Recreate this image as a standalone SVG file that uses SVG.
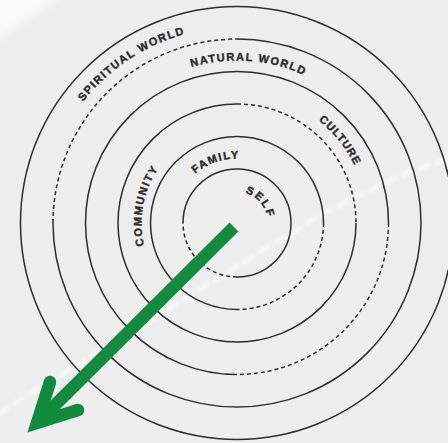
<svg xmlns="http://www.w3.org/2000/svg" width="448" height="443" viewBox="0 0 448 443">
  <defs>
    <filter id="blur" x="-20%" y="-20%" width="140%" height="140%">
      <feGaussianBlur stdDeviation="4"/>
    </filter>
    <filter id="blur2" x="-20%" y="-20%" width="140%" height="140%">
      <feGaussianBlur stdDeviation="1.5"/>
    </filter>
    <path id="p-spiritual" d="M57.25,301.15 A196,196 0 0 1 379.18,88.07"/>
    <path id="p-natural" d="M79.47,183.14 A162.5,162.5 0 0 1 398.67,206.57"/>
    <path id="p-culture" d="M174.1,108.1 A131,131 0 0 1 335.42,309.46"/>
    <path id="p-community" d="M203.24,312.33 A95.5,95.5 0 0 1 238.17,127.51"/>
    <path id="p-family" d="M173.29,233.09 A64.5,64.5 0 0 1 293.41,191.73"/>
    <path id="p-self" d="M220.8,196.57 A31,31 0 0 1 261.26,242.3"/>
  </defs>
  <style>
    .ring { fill: none; stroke: #2e2e2e; stroke-width: 1.5; }
    .dash { stroke-dasharray: 4 3; }
    .lbl { font-family: "Liberation Sans", Arial, sans-serif; font-weight: bold; font-size: 11px; fill: #2b2b2b; stroke: #2b2b2b; stroke-width: 0.4px; letter-spacing: 1.5px; }
    .arrow { fill: none; stroke: #138a3e; stroke-width: 12.5; }
  </style>

  <!-- background -->
  <rect width="448" height="443" fill="#eeeeee"/>
  <path d="M-10,-10 L70,-10 L-10,45 Z" fill="#fafafa" filter="url(#blur)"/>
  <path d="M0,412 Q120,340 250,258 T448,160" fill="none" stroke="#ffffff" stroke-opacity="0.55" stroke-width="5" stroke-dasharray="9 9" stroke-linecap="round" filter="url(#blur2)"/>

  <g id="ring-self">
    <path class="ring" d="M183,223 A54,54 0 1 1 237,277"/>
    <path class="ring dash" d="M237,277 A54,54 0 0 1 183,223"/>
    <text class="lbl" style="letter-spacing:2px"><textPath href="#p-self" startOffset="50%" text-anchor="middle">SELF</textPath></text>
  </g>
  <g id="ring-family">
    <path class="ring" d="M237,309.5 A86.5,86.5 0 1 1 323.5,223"/>
    <path class="ring dash" d="M323.5,223 A86.5,86.5 0 0 1 237,309.5"/>
    <text class="lbl"><textPath href="#p-family" startOffset="50%" text-anchor="middle">FAMILY</textPath></text>
  </g>
  <g id="ring-community">
    <path class="ring" d="M356,223 A119,119 0 1 1 237,104"/>
    <path class="ring dash" d="M237,104 A119,119 0 0 1 356,223"/>
    <text class="lbl"><textPath href="#p-community" startOffset="50%" text-anchor="middle">COMMUNITY</textPath></text>
  </g>
  <g id="ring-culture">
    <path class="ring" d="M237,374.5 A151.5,151.5 0 1 1 388.5,223"/>
    <path class="ring dash" d="M388.5,223 A151.5,151.5 0 0 1 237,374.5"/>
    <text class="lbl" style="letter-spacing:1px"><textPath href="#p-culture" startOffset="50%" text-anchor="middle">CULTURE</textPath></text>
  </g>
  <g id="ring-natural-world">
    <path class="ring" d="M237,39 A184,184 0 1 1 53,223"/>
    <path class="ring dash" d="M53,223 A184,184 0 0 1 237,39"/>
    <text class="lbl"><textPath href="#p-natural" startOffset="50%" text-anchor="middle">NATURAL WORLD</textPath></text>
  </g>
  <g id="ring-spiritual-world">
    <circle class="ring" cx="237" cy="223" r="216.5"/>
    <text class="lbl"><textPath href="#p-spiritual" startOffset="50%" text-anchor="middle">SPIRITUAL WORLD</textPath></text>
  </g>

  <g id="connectors">
    <line class="arrow" x1="234" y1="227" x2="37" y2="423" stroke-linecap="butt"/>
    <polyline class="arrow" points="50,382 37,423 78,410" stroke-linecap="round" stroke-linejoin="miter" stroke-miterlimit="10"/>
  </g>
</svg>
